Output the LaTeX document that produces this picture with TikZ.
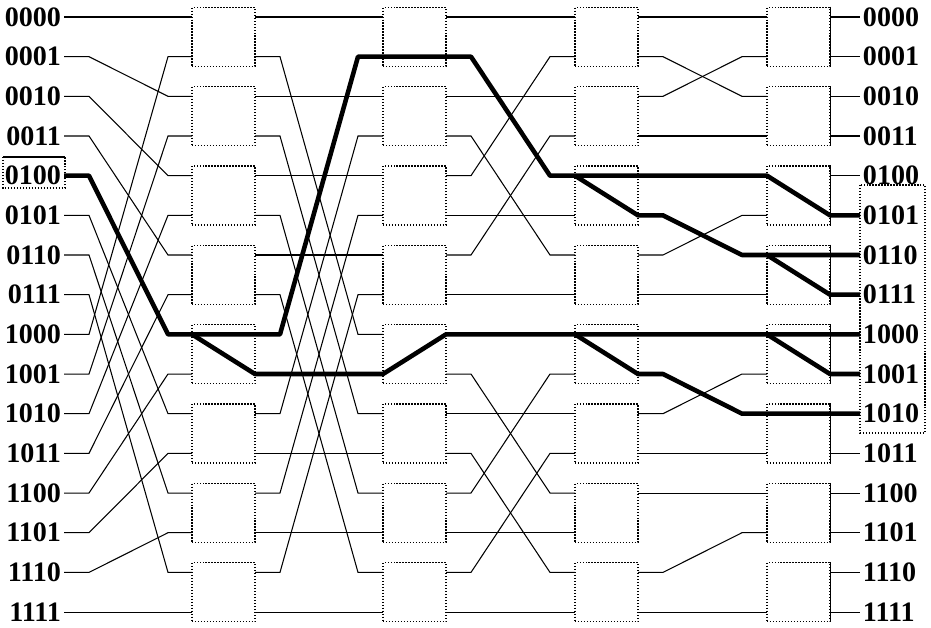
\documentclass[tikz,border=0pt]{standalone}
\usepackage{fontspec}
\setmainfont{Liberation Serif}
\usetikzlibrary{calc}

\tikzset{
    wire/.style={line width=0.6pt},
    route/.style={line width=2.6pt, line join=round},
    switch/.style={draw, densely dotted, line width=0.7pt, minimum width=1.26cm, minimum height=1.18cm, inner sep=0pt},
    lbl/.style={font=\bfseries\fontsize{16}{16}\selectfont, inner sep=1.5pt},
}

\begin{document}
\begin{tikzpicture}[x=0.02cm, y=-0.02cm]
    \useasboundingbox (0,0) rectangle (931,628);

    % address labels
    \foreach \r/\txt in {0/0000,1/0001,2/0010,3/0011,4/0100,5/0101,6/0110,7/0111,8/1000,9/1001,10/1010,11/1011,12/1100,13/1101,14/1110,15/1111} {
        \node[lbl, anchor=east] (L-\r) at (64, {17+39.67*\r}) {\txt};
        \node[lbl, anchor=west] (R-\r) at (860, {17+39.67*\r}) {\txt};
    }

    % switches and their ports
    \foreach \s/\xl in {1/192,2/383,3/575,4/767} {
        \foreach \k in {0,...,7}
            \node[switch] (sw\s-\k) at ({\xl+31.5}, {17+39.67*(2*\k+0.5)}) {};
        \foreach \r in {0,...,15} {
            \coordinate (i\s-\r) at (\xl, {17+39.67*\r});
            \coordinate (o\s-\r) at ({\xl+63}, {17+39.67*\r});
        }
    }
    \foreach \k in {0,...,7}
        \draw[line width=0.7pt] (sw4-\k.north east) -- (sw4-\k.south east);

    % inputs to stage 1
    \foreach \r/\t in {0/0,1/2,2/4,3/6,4/8,5/10,6/12,7/14,8/1,9/3,10/5,11/7,12/9,13/11,14/13,15/15}
        \draw[wire] (L-\r.east) -- ++(25,0) -- ($(i1-\t)+(-24,0)$) -- (i1-\t);

    % stage 1 to stage 2
    \foreach \r/\t in {0/0,1/8,2/2,3/10,4/4,5/12,6/6,7/14,8/1,9/9,10/3,11/11,12/5,13/13,14/7,15/15}
        \draw[wire] (o1-\r) -- ++(25,0) -- ($(i2-\t)+(-25,0)$) -- (i2-\t);

    % stage 2 to stage 3
    \foreach \r/\t in {0/0,1/4,2/2,3/6,4/1,5/5,6/3,7/7,8/8,9/12,10/10,11/14,12/9,13/13,14/11,15/15}
        \draw[wire] (o2-\r) -- ++(25,0) -- ($(i3-\t)+(-25,0)$) -- (i3-\t);

    % stage 3 to stage 4
    \foreach \r/\t in {0/0,1/2,2/1,3/3,4/4,5/6,6/5,7/7,8/8,9/10,10/9,11/11,12/12,14/13,15/15}
        \draw[wire] (o3-\r) -- ++(25,0) -- ($(i4-\t)+(-25,0)$) -- (i4-\t);

    % outputs
    \foreach \r in {0,...,15}
        \draw[wire] (o4-\r) -- (R-\r.west);

    % multicast tree from 0100
    \draw[route] (L-4.east) -- ++(25,0) -- ($(i1-8)+(-24,0)$) -- (i1-8) -- (o1-8) -- ++(25,0)
        -- ($(i2-1)+(-25,0)$) -- (i2-1) -- (o2-1) -- ++(25,0) -- ($(i3-4)+(-25,0)$) -- (i3-4)
        -- (o3-4) -- (i4-4) -- (o4-5) -- (R-5.west);
    \draw[route] (i1-8) -- (o1-9) -- (i2-9) -- (o2-8) -- (i3-8) -- (o3-8) -- (i4-8) -- (o4-8) -- (R-8.west);
    \draw[route] (i3-8) -- (o3-9) -- ++(25,0) -- ($(i4-10)+(-25,0)$) -- (i4-10) -- (o4-10) -- (R-10.west);
    \draw[route] (i3-4) -- (o3-5) -- ++(25,0) -- ($(i4-6)+(-25,0)$) -- (i4-6) -- (o4-6) -- (R-6.west);
    \draw[route] (i4-6) -- (o4-7) -- (R-7.west);
    \draw[route] (i4-8) -- (o4-9) -- (R-9.west);

    % source and destination frames
    \draw[densely dotted, line width=0.7pt] (3,157) rectangle (65,188);
    \draw[line width=0.9pt] (3,157) -- (65,157);
    \draw[densely dotted, line width=0.7pt] (860,185) rectangle (925,433);

\end{tikzpicture}
\end{document}
